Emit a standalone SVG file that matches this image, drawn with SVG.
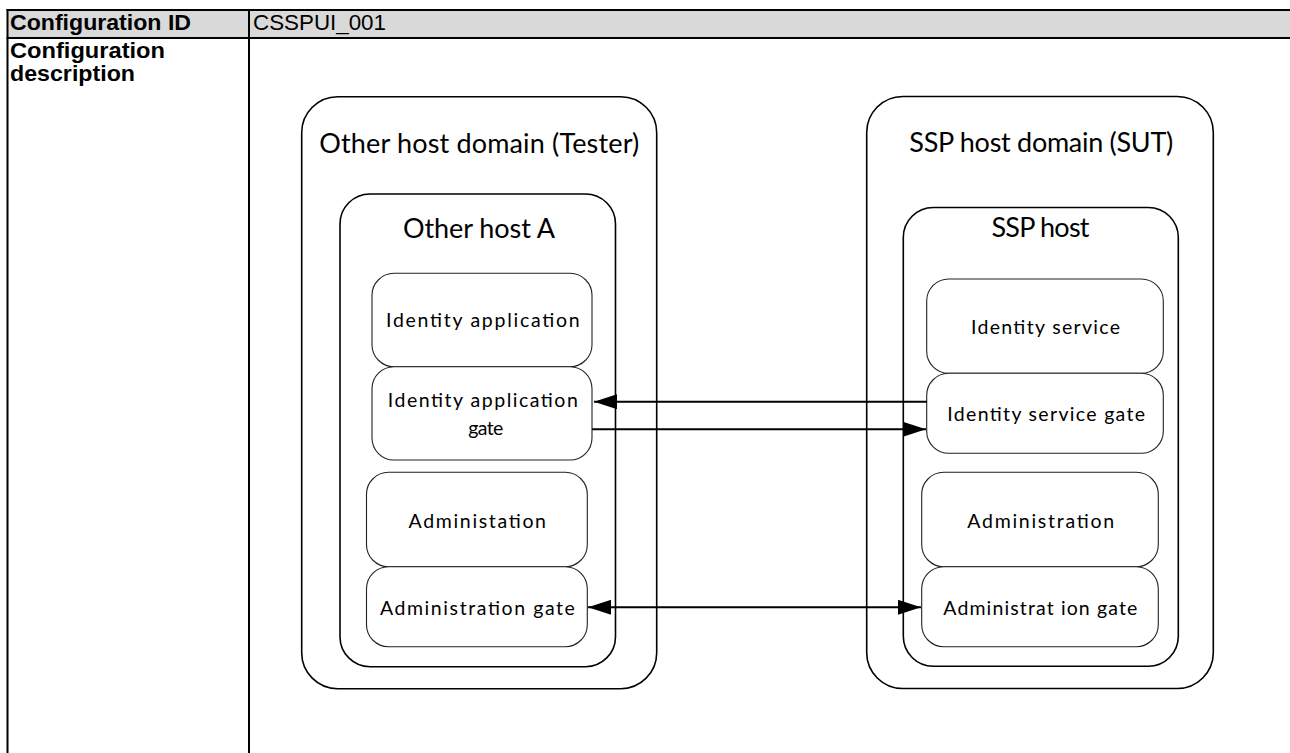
<svg xmlns="http://www.w3.org/2000/svg" width="1290" height="753" viewBox="0 0 1290 753">
<style>
.tbl{stroke:#000;stroke-width:2;fill:none}
.hdr{font-family:"Liberation Sans",Arial,sans-serif;font-size:22px;fill:#000}
.hd2{font-family:"Liberation Sans",Arial,sans-serif;font-size:22px;fill:#000;font-weight:bold}
.b{font-weight:bold}
.dom{fill:#fff;stroke:#000;stroke-width:1.6}
.node{fill:#fff;stroke:#222;stroke-width:1.1}
.lbl{font-family:Lato,"Open Sans",sans-serif;fill:#000;text-anchor:middle}
.big{font-size:27px}
.sm{font-size:19.5px}
.con{stroke:#000;stroke-width:2;fill:none}
</style>
<defs>
<marker id="ah" markerUnits="userSpaceOnUse" markerWidth="23" markerHeight="15" refX="23" refY="7.5" orient="auto-start-reverse" viewBox="0 0 23 15">
<path d="M0,0 L23,7.5 L0,15 Z" fill="#000"/>
</marker>
</defs>
<rect width="1290" height="753" fill="#fff"/>
<g id="table">
<rect x="7.5" y="10" width="1283" height="28" fill="#d9d9d9"/>
<line class="tbl" x1="6.5" y1="10" x2="1290" y2="10"/>
<line class="tbl" x1="6.5" y1="38" x2="1290" y2="38"/>
<line class="tbl" x1="7.5" y1="9" x2="7.5" y2="753"/>
<line class="tbl" x1="249" y1="9" x2="249" y2="753"/>
<text class="hdr b" x="10" y="30" textLength="181" lengthAdjust="spacingAndGlyphs">Configuration ID</text>
<text class="hdr" x="253" y="30" textLength="133" lengthAdjust="spacingAndGlyphs">CSSPUI_001</text>
<text class="hd2" x="10" y="58" textLength="155" lengthAdjust="spacingAndGlyphs">Configuration</text>
<text class="hd2" x="10" y="81" textLength="125" lengthAdjust="spacingAndGlyphs">description</text>
</g>
<g id="other-host-domain">
<rect class="dom" x="301.7" y="96.7" width="355" height="592" rx="36"/>
<text class="lbl big" x="479.3" y="153.3" textLength="320" lengthAdjust="spacing">Other host domain (Tester)</text>
</g>
<g id="other-host-a">
<rect class="dom" x="340" y="194" width="275.5" height="472.7" rx="30"/>
<text class="lbl big" x="479" y="237.7" textLength="152" lengthAdjust="spacing">Other host A</text>
</g>
<g id="ssp-host-domain">
<rect class="dom" x="866.7" y="96.5" width="346.6" height="592" rx="36"/>
<text class="lbl big" x="1041.3" y="151.7" textLength="264" lengthAdjust="spacing">SSP host domain (SUT)</text>
</g>
<g id="ssp-host">
<rect class="dom" x="903.3" y="207.5" width="275" height="458.8" rx="30"/>
<text class="lbl big" x="1040.5" y="237.3" textLength="98" lengthAdjust="spacing">SSP host</text>
</g>
<g id="identity-application">
<rect class="node" x="372" y="273.3" width="220" height="93.4" rx="22"/>
<text class="lbl sm" x="482.8" y="327" textLength="193.6" lengthAdjust="spacing">Identity  application</text>
</g>
<g id="identity-application-gate">
<rect class="node" x="372" y="366.7" width="220" height="93.3" rx="22"/>
<text class="lbl sm" x="482.8" y="407" textLength="190" lengthAdjust="spacing">Identity application</text>
<text class="lbl sm" x="485.8" y="435" textLength="35" lengthAdjust="spacing">gate</text>
</g>
<g id="administation">
<rect class="node" x="366.5" y="472.3" width="220.8" height="94.4" rx="22"/>
<text class="lbl sm" x="477.3" y="528" textLength="137.4" lengthAdjust="spacing">Administation</text>
</g>
<g id="administration-gate-a">
<rect class="node" x="366.5" y="566.7" width="220.8" height="80" rx="22"/>
<text class="lbl sm" x="477.4" y="615" textLength="195" lengthAdjust="spacing">Administration gate</text>
</g>
<g id="identity-service">
<rect class="node" x="926.7" y="279" width="236.6" height="94.3" rx="22"/>
<text class="lbl sm" x="1045.5" y="334" textLength="149" lengthAdjust="spacing">Identity service</text>
</g>
<g id="identity-service-gate">
<rect class="node" x="926.7" y="373.3" width="236.6" height="80" rx="22"/>
<text class="lbl sm" x="1046.2" y="421" textLength="197.7" lengthAdjust="spacing">Identity service gate</text>
</g>
<g id="administration">
<rect class="node" x="921.7" y="472.3" width="236.6" height="94.4" rx="22"/>
<text class="lbl sm" x="1040.7" y="528" textLength="146.7" lengthAdjust="spacing">Administration</text>
</g>
<g id="administration-gate-b">
<rect class="node" x="921.7" y="566.7" width="236.6" height="80" rx="22"/>
<text class="lbl sm" x="1040.3" y="614.5" textLength="194" lengthAdjust="spacing">Administrat ion gate</text>
</g>
<g id="connectors">
<line class="con" x1="927" y1="401.7" x2="594" y2="401.7" marker-end="url(#ah)"/>
<line class="con" x1="592" y1="429.3" x2="926" y2="429.3" marker-end="url(#ah)"/>
<line class="con" x1="588" y1="607.3" x2="921" y2="607.3" marker-start="url(#ah)" marker-end="url(#ah)"/>
</g>
</svg>
